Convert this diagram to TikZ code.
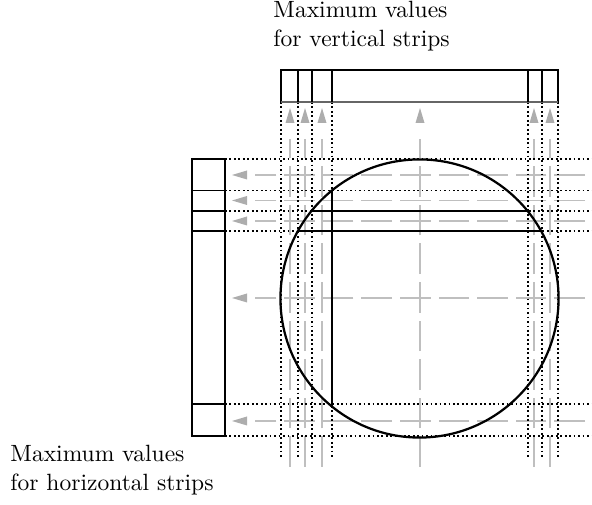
\documentclass[tikz,border=0pt]{standalone}
\begin{document}
\begin{tikzpicture}[x=0.425pt,y=-0.425pt,
  boxline/.style={black,line width=0.45pt},
  dotline/.style={black,line width=0.5pt,dash pattern=on 0.75pt off 1.15pt},
  grayline/.style={black!25,line width=0.45pt,dash pattern=on 13pt off 3.4pt},
  grayhead/.style={fill=black!32,draw=none},
  thickline/.style={black,line width=1.2pt},
  circ/.style={black,line width=0.95pt},
  lbl/.style={anchor=base west,inner sep=0pt,font=\normalsize}]
\useasboundingbox (0,0) rectangle (592,505);
% gray dashed arrows: vertical
\foreach \x in {290,305,322,420,534,550}{
  \draw[grayline] (\x,467) -- (\x,139);
  \fill[grayhead] (\x-4.5,123) -- (\x+4.5,123) -- (\x,108) -- cycle;
}
% gray dashed arrows: horizontal
\foreach \y in {175,200.5,221,298,421}{
  \draw[grayline] (585,\y) -- (255,\y);
  \fill[grayhead] (247,\y-4.5) -- (247,\y+4.5) -- (232,\y) -- cycle;
}
% dotted lines
\foreach \x in {281,298,312,332,528,542,558}
  \draw[dotline] (\x,102) -- (\x,458);
\foreach \y in {159,190.7,211,231,404,436}
  \draw[dotline] (225,\y) -- (592,\y);
% vertical strip box
\draw[boxline] (281,102) -- (281,70) -- (558,70) -- (558,102);
\draw[black!60,line width=0.8pt] (281,102) -- (558,102);
\foreach \x in {298,312,332,528,542}
  \draw[boxline] (\x,70) -- (\x,102);
% horizontal strip box
\draw[boxline] (192,159) rectangle (225,436);
\foreach \y in {190.7,211,231,404}
  \draw[boxline] (192,\y) -- (225,\y);
% circle
\draw[circ] (419.5,298.5) circle[radius=59.1pt];
% thick strips
\draw[thickline] (332,190.5) -- (332,406);
\draw[thickline] (312,211) -- (527.5,211);
\draw[thickline] (298,231) -- (540.5,231);
% labels
\node[lbl] (t1) at (273,18) {Maximum values};
\node[lbl] (t2) at (273,46.5) {for vertical strips};
\node[lbl] (b1) at (10,462) {Maximum values};
\node[lbl] (b2) at (10,490.5) {for horizontal strips};
\end{tikzpicture}
\end{document}
